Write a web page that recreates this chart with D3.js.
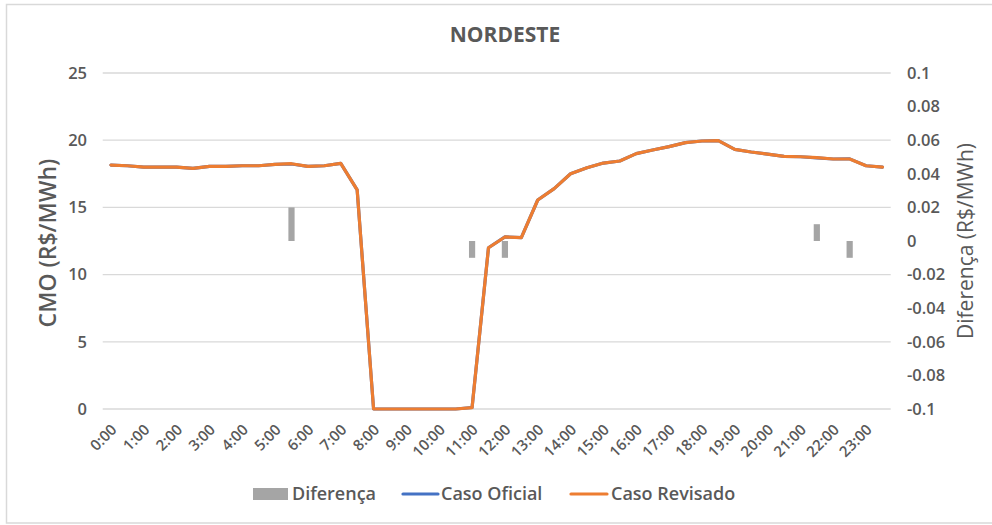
<!DOCTYPE html>
<html><head><meta charset="utf-8">
<script src="https://cdn.jsdelivr.net/npm/d3@7"></script>
<style>body{margin:0;background:#fff;} text{font-family:"Open Sans","Noto Sans",sans-serif;}</style>
</head><body><svg id="c" width="992" height="525"></svg>
<script>
const hours = [];
for (let h = 0; h < 24; h++) { hours.push(h + ":00"); hours.push(h + ":30"); }
const tickLabels = hours.filter((d, i) => i % 2 === 0);
const casoRevisado = [18.15,18.1,18.0,18.0,18.0,17.9,18.05,18.05,18.1,18.1,18.2,18.25,18.05,18.1,18.28,16.3,0,0,0,0,0,0,0.1,12.0,12.8,12.75,15.55,16.4,17.5,17.95,18.3,18.45,19.0,19.27,19.52,19.82,19.94,19.97,19.32,19.12,18.97,18.8,18.77,18.7,18.6,18.6,18.1,18.0];
const casoOficial = [18.15,18.1,18.0,18.0,18.0,17.9,18.05,18.05,18.1,18.1,18.2,18.23,18.05,18.1,18.28,16.3,0,0,0,0,0,0,0.11,12.0,12.81,12.75,15.55,16.4,17.5,17.95,18.3,18.45,19.0,19.27,19.52,19.82,19.94,19.97,19.32,19.12,18.97,18.8,18.77,18.69,18.6,18.61,18.1,18.0];
const diferenca = [0,0,0,0,0,0,0,0,0,0,0,0.02,0,0,0,0,0,0,0,0,0,0,-0.01,0,-0.01,0,0,0,0,0,0,0,0,0,0,0,0,0,0,0,0,0,0,0.01,0,-0.01,0,0];
const leftTicks = [0,5,10,15,20,25];
const rightTicks = [0.1,0.08,0.06,0.04,0.02,0,-0.02,-0.04,-0.06,-0.08,-0.1];

const svg = d3.select("#c");
const txt = "#595959";
svg.append("rect").attr("x",6.5).attr("y",4.5).attr("width",990).attr("height",518.5)
  .attr("fill","#fff").attr("stroke","#d9d9d9").attr("stroke-width",1.5);

const L = 102.7, R = 890.7, T = 73, B = 409;
const x = d3.scaleBand().domain(hours).range([L, R]).padding(0);
const y = d3.scaleLinear().domain([0,25]).range([B,T]);
const y2 = d3.scaleLinear().domain([-0.1,0.1]).range([B,T]);

// gridlines
svg.append("g").selectAll("line").data(leftTicks).join("line")
  .attr("x1",L).attr("x2",R).attr("y1",d=>y(d)).attr("y2",d=>y(d))
  .attr("stroke","#d9d9d9").attr("stroke-width",1.3);

// left axis labels
svg.append("g").selectAll("text").data(leftTicks).join("text")
  .attr("x",87).attr("y",d=>y(d)).attr("dy","0.35em").attr("text-anchor","end")
  .attr("fill",txt).attr("font-size",16.5).attr("font-weight",600).text(d=>d);
// right axis labels
svg.append("g").selectAll("text").data(rightTicks).join("text")
  .attr("x",907).attr("y",d=>y2(d)).attr("dy","0.35em").attr("text-anchor","start")
  .attr("fill",txt).attr("font-size",16.5).attr("font-weight",600).text(d=>d);

// x labels
svg.append("g").selectAll("text").data(tickLabels).join("text")
  .attr("transform",d=>`translate(${x(d)+x.bandwidth()/2+3},${427}) rotate(-45)`)
  .attr("text-anchor","end").attr("dy","0.35em")
  .attr("fill",txt).attr("font-size",15).attr("font-weight",600).text(d=>d);

// bars
const bw = 6.2;
svg.append("g").selectAll("rect").data(diferenca.map((v,i)=>({v,c:hours[i]})).filter(d=>d.v!==0)).join("rect")
  .attr("x",d=>x(d.c)+x.bandwidth()/2-bw/2).attr("width",bw)
  .attr("y",d=>y2(Math.max(0,d.v))).attr("height",d=>Math.abs(y2(d.v)-y2(0)))
  .attr("fill","#a5a5a5");

const line = d3.line().x((d,i)=>x(hours[i])+x.bandwidth()/2).y(d=>y(d));
svg.append("path").datum(casoOficial).attr("d",line).attr("fill","none")
  .attr("stroke","#4472c4").attr("stroke-width",3.2).attr("stroke-linejoin","round").attr("stroke-linecap","round");
svg.append("path").datum(casoRevisado).attr("d",line).attr("fill","none")
  .attr("stroke","#ed7d31").attr("stroke-width",3.2).attr("stroke-linejoin","round").attr("stroke-linecap","round");

// title
svg.append("text").attr("x",505).attr("y",42).attr("text-anchor","middle")
  .attr("fill",txt).attr("font-size",21).attr("font-weight",700).text("NORDESTE");

// axis titles
svg.append("text").attr("transform","translate(56,243) rotate(-90)").attr("text-anchor","middle")
  .attr("fill",txt).attr("font-size",23).attr("font-weight",600).text("CMO (R$/MWh)");
svg.append("text").attr("transform","translate(973,241) rotate(-90)").attr("text-anchor","middle")
  .attr("fill",txt).attr("font-size",21).attr("font-weight",400).text("Diferença (R$/MWh)");

// legend
const lg = svg.append("g");
lg.append("rect").attr("x",253).attr("y",488).attr("width",35).attr("height",12).attr("fill","#a5a5a5");
lg.append("text").attr("x",292).attr("y",494).attr("dy","0.35em").attr("fill",txt).attr("font-size",18).attr("font-weight",600).text("Diferença");
lg.append("line").attr("x1",403).attr("x2",438).attr("y1",494).attr("y2",494).attr("stroke","#4472c4").attr("stroke-width",3.2).attr("stroke-linecap","round");
lg.append("text").attr("x",441).attr("y",494).attr("dy","0.35em").attr("fill",txt).attr("font-size",18).attr("font-weight",600).text("Caso Oficial");
lg.append("line").attr("x1",571).attr("x2",607).attr("y1",494).attr("y2",494).attr("stroke","#ed7d31").attr("stroke-width",3.2).attr("stroke-linecap","round");
lg.append("text").attr("x",611).attr("y",494).attr("dy","0.35em").attr("fill",txt).attr("font-size",18).attr("font-weight",600).text("Caso Revisado");
</script></body></html>
